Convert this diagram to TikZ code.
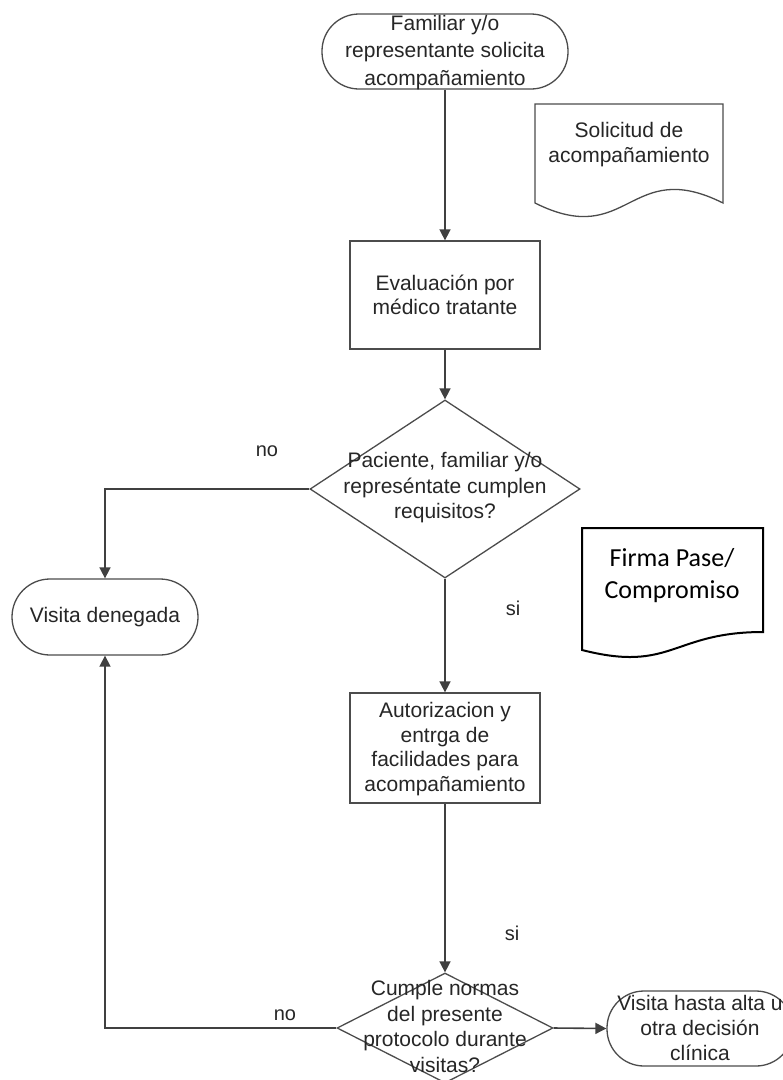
\documentclass[tikz,border=0pt]{standalone}
\usepackage{fontspec}
\setmainfont{Liberation Sans}
\newfontfamily\calibrifont{Carlito}
\usetikzlibrary{shapes.geometric,arrows.meta,calc}
\begin{document}
\begin{tikzpicture}[x=1pt,y=-1pt,
  shapeline/.style={draw=black!70, line width=1.3pt},
  term/.style={shapeline, rectangle, rounded corners=37pt, minimum width=246pt, minimum height=75pt, inner sep=0pt},
  procbox/.style={shapeline, rectangle, inner sep=0pt, minimum width=190pt},
  decision/.style={shapeline, diamond, inner sep=0pt},
  txt/.style={align=center, text=black!85, inner sep=0pt, font=\fontsize{21}{24.7}\selectfont},
  lbl/.style={text=black!85, inner sep=0pt, font=\fontsize{20}{24}\selectfont},
  conn/.style={draw=black!75, line width=1.6pt, -{Triangle[length=11pt,width=11pt]}},
]
\useasboundingbox (0,0) rectangle (783,1080);
\clip (0,0) rectangle (783,1080);
\fill[white] (0,0) rectangle (783,1080);

% top terminator
\node[term] (t1) at (445,51.5) {};
\node[txt, font=\fontsize{21}{27.5}\selectfont] (t1txt) at (445,52.5) {Familiar y/o\\representante solicita\\acompañamiento};

% document: Solicitud
\draw[shapeline] (535,104) -- (723,104) -- (723,203) .. controls (629,156) and (629,250) .. (535,203) -- cycle;
\node[txt, font=\fontsize{21}{25}\selectfont] (soltxt) at (629,144.5) {Solicitud de\\acompañamiento};

% box 1
\node[procbox, minimum height=108pt] (b1) at (445,295) {};
\node[txt] (b1txt) at (445,295) {Evaluación por\\médico tratante};

% decision 1
\node[decision, minimum width=270pt, minimum height=178pt] (d1) at (445,489) {};
\node[txt, font=\fontsize{21}{25.5}\selectfont] (d1txt) at (445,488) {Paciente, familiar y/o\\represéntate cumplen\\requisitos?};

% visita denegada
\node[term, minimum width=186pt, minimum height=76pt, rounded corners=38pt] (t2) at (105,617) {};
\node[txt] (t2txt) at (105,617) {Visita denegada};

% document: Firma
\draw[black, line width=2pt] (582,528) -- (763,528) -- (763,632) .. controls (672,632) and (672,673) .. (582,650) -- cycle;
\node[align=center, inner sep=0pt, font=\calibrifont\fontsize{26}{32}\selectfont] (firmatxt) at (672,576) {Firma Pase/\\Compromiso};

% box 2
\node[procbox, minimum height=110pt] (b2) at (445,748) {};
\node[txt] (b2txt) at (445,749) {Autorizacion y\\entrga de\\facilidades para\\acompañamiento};

% decision 2
\node[decision, minimum width=216pt, minimum height=110pt] (d2) at (445,1028) {};
\node[txt, font=\fontsize{21}{25.7}\selectfont] (d2txt) at (445,1026.5) {Cumple normas\\del presente\\protocolo durante\\visitas?};

% visita hasta alta
\node[term, minimum width=186pt, minimum height=75pt] (t3) at (700,1028.5) {};
\node[txt] (t3txt) at (700,1028) {Visita hasta alta u\\otra decisión\\clínica};

% connectors
\draw[conn] (t1) -- (b1);
\draw[conn] (b1) -- (d1);
\draw[conn] (d1) -- (b2);
\draw[conn] (b2) -- (d2);
\draw[conn] (d2.east) -- (t3.west);
\draw[conn] (d1.west) -| (t2.north);
\draw[conn] (d2.west) -| (t2.south);

% labels
\node[lbl] (no1) at (267,451) {no};
\node[lbl] (si1) at (513,608) {si};
\node[lbl] (si2) at (512,933) {si};
\node[lbl] (no2) at (285,1015) {no};
\end{tikzpicture}
\end{document}
